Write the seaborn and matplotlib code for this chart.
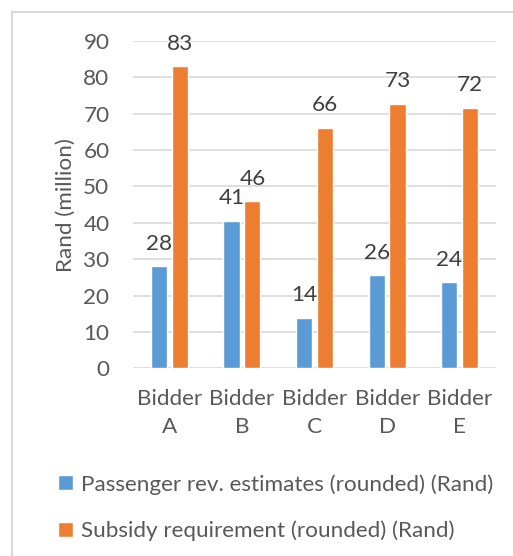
import seaborn as sns
import pandas as pd
import matplotlib.pyplot as plt
from matplotlib.patches import Rectangle

bidders = ["Bidder\nA", "Bidder\nB", "Bidder\nC", "Bidder\nD", "Bidder\nE"]
series_names = ["Passenger rev. estimates (rounded) (Rand)",
                "Subsidy requirement (rounded) (Rand)"]
passenger_rev = [28.1, 40.6, 13.9, 25.6, 23.6]
subsidy_req = [83.1, 45.9, 66.1, 72.8, 71.7]
colors = ["#5B9BD5", "#ED7D31"]

df = pd.DataFrame({
    "Bidder": bidders * 2,
    "Series": [series_names[0]] * 5 + [series_names[1]] * 5,
    "Value": passenger_rev + subsidy_req,
})

sns.set_style("white")
plt.rcParams["font.family"] = ["Lato", "DejaVu Sans"]
fs = 16.2
txt = "#595959"

fig = plt.figure(figsize=(5.13, 5.56), dpi=100)
ax = fig.add_axes([133 / 513, 1 - 368.3 / 556, 363 / 513, 327.3 / 556])

sns.barplot(data=df, x="Bidder", y="Value", hue="Series", palette=colors,
            width=0.577, gap=0.225, ax=ax, saturation=1, errorbar=None)

for cont in ax.containers:
    ax.bar_label(cont, labels=[f"{b.get_height():.0f}" for b in cont],
                 padding=9, fontsize=fs, color="#404040")

ax.set_ylim(0, 90)
ax.set_yticks(range(0, 91, 10))
ax.yaxis.grid(True, color="#D9D9D9", linewidth=1.2)
ax.set_axisbelow(True)
for s in ax.spines.values():
    s.set_visible(False)
ax.tick_params(axis="both", length=0, labelsize=fs, colors=txt)
ax.tick_params(axis="y", pad=17)
ax.tick_params(axis="x", pad=15)
for t in ax.get_xticklabels():
    t.set_linespacing(1.5)
ax.set_xlabel("")
ax.set_ylabel("Rand (million)", fontsize=fs, color=txt, labelpad=5)

handles, labels = ax.get_legend_handles_labels()
ax.get_legend().remove()
fig.legend(handles, labels, loc="upper left", bbox_to_anchor=(38 / 513, 1 - 454 / 556),
           frameon=False, fontsize=fs, labelcolor=txt, handlelength=0.65,
           handleheight=0.65, handletextpad=0.35, labelspacing=1.15)

fig.patches.append(Rectangle((12 / 513, -0.1), 1.2, 1 - 12 / 556 + 0.1,
                             transform=fig.transFigure, fill=False,
                             edgecolor="#D9D9D9", linewidth=1.5))

fig.savefig("out.png", dpi=100)
